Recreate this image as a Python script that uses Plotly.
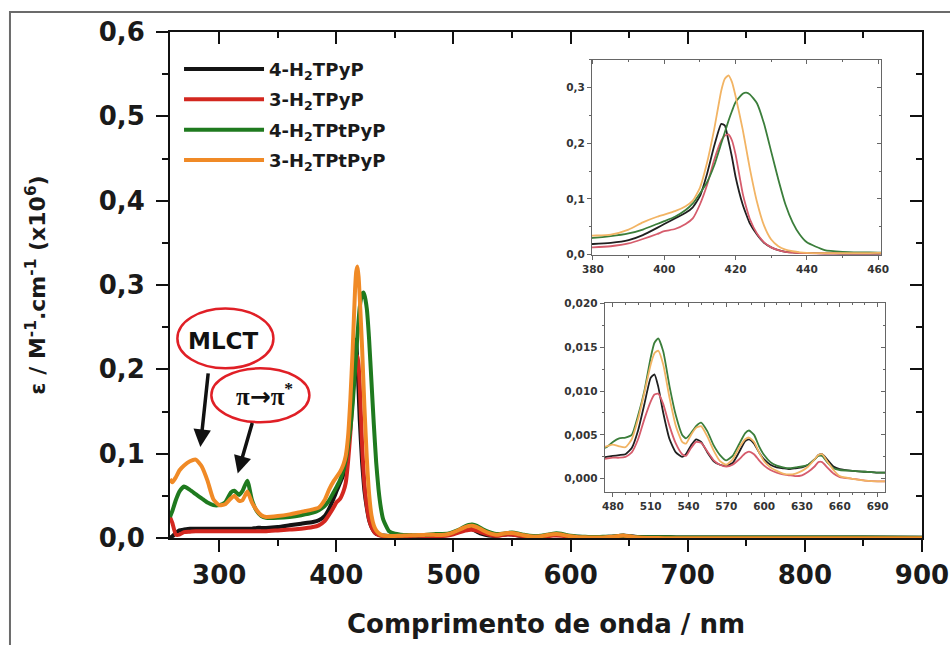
import plotly.graph_objects as go

# ---------------- data ----------------
wavelength = [
    258, 260, 263, 266, 270, 275, 280, 285, 290, 295,
    300, 305, 310, 313, 317, 320, 324, 328, 332, 336,
    340, 350, 360, 370, 380, 385, 390, 394, 398, 400,
    403, 406, 408, 410, 412, 414, 416, 417, 418, 419,
    420, 422, 423, 424, 426, 428, 430, 432, 434, 436,
    438, 440, 445, 450, 455, 460, 465, 470, 475, 480,
    485, 490, 495, 500, 505, 510, 513, 516, 520, 525,
    530, 535, 538, 542, 546, 550, 555, 560, 565, 570,
    575, 580, 585, 588, 592, 596, 600, 605, 610, 615,
    620, 625, 630, 635, 640, 643, 646, 650, 655, 660,
    670, 680, 690, 700, 750, 800, 850, 900,
]

eps_4_H2TPyP = [
    0.000, 0.002, 0.006, 0.009, 0.010, 0.011, 0.011, 0.011, 0.011, 0.011,
    0.011, 0.011, 0.011, 0.011, 0.011, 0.011, 0.011, 0.011, 0.012, 0.012,
    0.012, 0.013, 0.015, 0.017, 0.019, 0.021, 0.026, 0.035, 0.048, 0.055,
    0.065, 0.075, 0.085, 0.105, 0.145, 0.195, 0.235, 0.232, 0.205, 0.175,
    0.140, 0.090, 0.072, 0.056, 0.036, 0.021, 0.013, 0.008, 0.005, 0.004,
    0.003, 0.003, 0.0022, 0.002, 0.002, 0.002, 0.0022, 0.0024, 0.0025, 0.0026,
    0.0027, 0.0028, 0.0035, 0.0055, 0.0085, 0.0115, 0.0119, 0.0105, 0.0075, 0.0045,
    0.0030, 0.0025, 0.0028, 0.0038, 0.0045, 0.0042, 0.0030, 0.0020, 0.0016, 0.0015,
    0.0018, 0.0030, 0.0043, 0.0045, 0.0040, 0.0030, 0.0022, 0.0016, 0.0013, 0.0012,
    0.0011, 0.0012, 0.0013, 0.0016, 0.0022, 0.0027, 0.0028, 0.0022, 0.0014, 0.0011,
    0.0009, 0.0008, 0.0007, 0.0007, 0.0006, 0.0005, 0.0005, 0.0004,
]

eps_3_H2TPyP = [
    0.025, 0.018, 0.004, 0.004, 0.007, 0.0075, 0.008, 0.008, 0.008, 0.008,
    0.008, 0.008, 0.008, 0.008, 0.008, 0.008, 0.008, 0.008, 0.008, 0.008,
    0.008, 0.009, 0.010, 0.011, 0.013, 0.015, 0.020, 0.028, 0.037, 0.042,
    0.046, 0.055, 0.065, 0.090, 0.125, 0.170, 0.205, 0.214, 0.216, 0.205,
    0.180, 0.110, 0.085, 0.064, 0.038, 0.022, 0.013, 0.008, 0.005, 0.0035,
    0.0028, 0.0025, 0.002, 0.002, 0.002, 0.002, 0.0021, 0.0022, 0.0023, 0.0024,
    0.0024, 0.0025, 0.0030, 0.0045, 0.0068, 0.0088, 0.0096, 0.0097, 0.0085, 0.0060,
    0.0040, 0.0028, 0.0026, 0.0035, 0.0042, 0.0041, 0.0031, 0.0021, 0.0016, 0.0014,
    0.0016, 0.0022, 0.0029, 0.0031, 0.0028, 0.0021, 0.0015, 0.0010, 0.0007, 0.0005,
    0.0004, 0.0003, 0.0004, 0.0008, 0.0014, 0.0019, 0.0019, 0.0013, 0.0006, 0.0002,
    0.0000, -0.0002, -0.0003, -0.0003, -0.0003, -0.0003, -0.0003, -0.0003,
]

eps_4_H2TPtPyP = [
    0.025, 0.032, 0.045, 0.055, 0.061, 0.057, 0.052, 0.047, 0.042, 0.039,
    0.039, 0.042, 0.054, 0.056, 0.051, 0.056, 0.068, 0.045, 0.032, 0.026,
    0.024, 0.024, 0.025, 0.027, 0.030, 0.033, 0.038, 0.045, 0.055, 0.060,
    0.068, 0.080, 0.092, 0.110, 0.130, 0.160, 0.200, 0.220, 0.240, 0.258,
    0.274, 0.289, 0.291, 0.288, 0.272, 0.235, 0.185, 0.135, 0.090, 0.058,
    0.036, 0.022, 0.008, 0.005, 0.004, 0.0035, 0.0034, 0.0034, 0.0036, 0.0042,
    0.0046, 0.0047, 0.0050, 0.0072, 0.0100, 0.0138, 0.0155, 0.0160, 0.0145, 0.0105,
    0.0072, 0.0050, 0.0046, 0.0052, 0.0060, 0.0064, 0.0054, 0.0038, 0.0027, 0.0021,
    0.0026, 0.0039, 0.0052, 0.0055, 0.0050, 0.0037, 0.0027, 0.0019, 0.0015, 0.0013,
    0.0012, 0.0013, 0.0014, 0.0016, 0.0022, 0.0026, 0.0026, 0.0019, 0.0012, 0.0010,
    0.0009, 0.0008, 0.0007, 0.0007, 0.0006, 0.0005, 0.0005, 0.0004,
]

eps_3_H2TPtPyP = [
    0.070, 0.066, 0.072, 0.080, 0.086, 0.091, 0.093, 0.085, 0.068, 0.046,
    0.039, 0.040, 0.047, 0.050, 0.044, 0.045, 0.055, 0.042, 0.033, 0.027,
    0.025, 0.026, 0.028, 0.031, 0.034, 0.036, 0.045, 0.058, 0.068, 0.072,
    0.078, 0.087, 0.097, 0.120, 0.165, 0.225, 0.295, 0.316, 0.322, 0.310,
    0.285, 0.225, 0.190, 0.155, 0.095, 0.052, 0.027, 0.015, 0.009, 0.006,
    0.004, 0.003, 0.0025, 0.0025, 0.0026, 0.0030, 0.0033, 0.0035, 0.0037, 0.0039,
    0.0037, 0.0036, 0.0045, 0.0068, 0.0098, 0.0130, 0.0143, 0.0146, 0.0130, 0.0092,
    0.0060, 0.0042, 0.0040, 0.0050, 0.0058, 0.0060, 0.0048, 0.0032, 0.0020, 0.0016,
    0.0022, 0.0035, 0.0045, 0.0047, 0.0042, 0.0030, 0.0020, 0.0013, 0.0009, 0.0006,
    0.0005, 0.0006, 0.0009, 0.0014, 0.0022, 0.0027, 0.0028, 0.0020, 0.0010, 0.0003,
    0.0000, -0.0002, -0.0003, -0.0003, -0.0003, -0.0003, -0.0003, -0.0003,
]

series_names = [
    "4-H<sub>2</sub>TPyP",
    "3-H<sub>2</sub>TPyP",
    "4-H<sub>2</sub>TPtPyP",
    "3-H<sub>2</sub>TPtPyP",
]
series_values = [eps_4_H2TPyP, eps_3_H2TPyP, eps_4_H2TPtPyP, eps_3_H2TPtPyP]

main_colors = ["#141414", "#d3271f", "#1f7a1f", "#f08a26"]
inset_colors = ["#202020", "#d65c6c", "#3b7e3b", "#f2b464"]

x_title = "Comprimento de onda / nm"
y_title = "ε / M<sup>-1</sup>.cm<sup>-1</sup> (x10<sup>6</sup>)"

FONT = "DejaVu Sans"

# ---------------- figure ----------------
fig = go.Figure()

for i, (name, vals) in enumerate(zip(series_names, series_values)):
    fig.add_trace(go.Scatter(
        x=wavelength, y=vals, name=name, mode="lines",
        line=dict(color=main_colors[i], width=4, shape="spline", smoothing=0.5),
        legendgroup=f"g{i}", xaxis="x", yaxis="y",
    ))

for i, vals in enumerate(series_values):
    fig.add_trace(go.Scatter(
        x=wavelength, y=vals, mode="lines", showlegend=False,
        line=dict(color=inset_colors[i], width=1.8, shape="spline", smoothing=0.5),
        xaxis="x2", yaxis="y2",
    ))
    fig.add_trace(go.Scatter(
        x=wavelength, y=vals, mode="lines", showlegend=False,
        line=dict(color=inset_colors[i], width=1.8, shape="spline", smoothing=0.5),
        xaxis="x3", yaxis="y3",
    ))

# dummy traces so that inward-tick mirror axes are drawn
for xa, ya in (("x4", "y4"), ("x5", "y5"), ("x6", "y6")):
    fig.add_trace(go.Scatter(x=[], y=[], xaxis=xa, yaxis=ya, showlegend=False,
                             hoverinfo="skip"))

main_x_range = [258, 900]
main_y_range = [0, 0.6]
in1_x_range = [379.7, 460.8]
in1_y_range = [-0.001, 0.35]
in2_x_range = [473.5, 696]
in2_y_range = [-0.0015, 0.020]

in1_dom_x = [0.561, 0.9455]
in1_dom_y = [0.559, 0.945]
in2_dom_x = [0.578, 0.951]
in2_dom_y = [0.091, 0.464]

main_tick_font = dict(family=FONT, size=26, color="#1a1a1a", weight="bold")
inset_tick_font = dict(family=FONT, size=10.5, color="#333333", weight="bold")


def base_axis(rng, dtick, minor_dtick, ticklen, width, color, tickfont, fmt=None):
    d = dict(
        range=rng, autorange=False, tickmode="linear", tick0=0, dtick=dtick,
        ticks="outside", ticklen=ticklen, tickwidth=width, tickcolor=color,
        minor=dict(ticks="outside", dtick=minor_dtick, tick0=0,
                   ticklen=ticklen / 2, tickwidth=width, tickcolor=color),
        showline=True, linecolor=color, linewidth=width, mirror=True,
        showgrid=False, zeroline=False, tickfont=tickfont, automargin=False,
    )
    if fmt:
        d["tickformat"] = fmt
    return d


def inner_axis(rng, dtick, minor_dtick, ticklen, width, color, overlaying, side, anchor):
    return dict(
        range=rng, autorange=False, tickmode="linear", tick0=0, dtick=dtick,
        ticks="inside", ticklen=ticklen, tickwidth=width, tickcolor=color,
        minor=dict(ticks="inside", dtick=minor_dtick, tick0=0,
                   ticklen=ticklen / 2, tickwidth=width, tickcolor=color),
        showline=False, showgrid=False, zeroline=False, showticklabels=False,
        overlaying=overlaying, side=side, anchor=anchor, automargin=False,
    )


xaxis = base_axis(main_x_range, 100, 50, 12, 2, "#111111", main_tick_font)
xaxis.update(domain=[0, 1], anchor="y", ticklabelstandoff=1,
             title=dict(text=x_title, standoff=26,
                        font=dict(family=FONT, size=26, color="#1a1a1a", weight="bold")))
yaxis = base_axis(main_y_range, 0.1, 0.05, 12, 2, "#111111", main_tick_font, ".1f")
yaxis.update(domain=[0, 1], anchor="x", ticklabelstandoff=6,
             title=dict(text=y_title, standoff=47,
                        font=dict(family=FONT, size=22, color="#1a1a1a", weight="bold")))

xaxis2 = base_axis(in1_x_range, 20, 10, 4, 1, "#666666", inset_tick_font)
xaxis2.update(domain=in1_dom_x, anchor="y2")
yaxis2 = base_axis(in1_y_range, 0.1, 0.05, 4, 1, "#666666", inset_tick_font, ".1f")
yaxis2.update(domain=in1_dom_y, anchor="x2")

xaxis3 = base_axis(in2_x_range, 30, 10, 4, 1, "#666666", inset_tick_font)
xaxis3.update(domain=in2_dom_x, anchor="y3")
yaxis3 = base_axis(in2_y_range, 0.005, 0.0025, 4, 1, "#666666", inset_tick_font, ".3f")
yaxis3.update(domain=in2_dom_y, anchor="x3")

xaxis4 = inner_axis(main_x_range, 100, 50, 12, 2, "#111111", "x", "top", "y")
yaxis4 = inner_axis(main_y_range, 0.1, 0.05, 12, 2, "#111111", "y", "right", "x")
xaxis5 = inner_axis(in1_x_range, 20, 10, 4, 1, "#666666", "x2", "top", "y2")
yaxis5 = inner_axis(in1_y_range, 0.1, 0.05, 4, 1, "#666666", "y2", "right", "x2")
xaxis6 = inner_axis(in2_x_range, 30, 10, 4, 1, "#666666", "x3", "top", "y3")
yaxis6 = inner_axis(in2_y_range, 0.005, 0.0025, 4, 1, "#666666", "y3", "right", "x3")

fig.update_layout(
    width=950, height=645,
    margin=dict(l=170, r=28, t=32, b=107, autoexpand=False),
    paper_bgcolor="white", plot_bgcolor="white",
    separators=",.",
    xaxis=xaxis, yaxis=yaxis, xaxis2=xaxis2, yaxis2=yaxis2,
    xaxis3=xaxis3, yaxis3=yaxis3, xaxis4=xaxis4, yaxis4=yaxis4,
    xaxis5=xaxis5, yaxis5=yaxis5, xaxis6=xaxis6, yaxis6=yaxis6,
    showlegend=True,
    legend=dict(x=0.012, y=0.963, xanchor="left", yanchor="top",
                bgcolor="rgba(0,0,0,0)", borderwidth=0,
                font=dict(family=FONT, size=18, color="#1a1a1a", weight="bold"),
                tracegroupgap=4, itemwidth=80),
)

# outer picture frame (top and left edges visible)
fig.add_shape(type="rect", xref="paper", yref="paper",
              x0=-0.2128, x1=1.3, y0=-0.5, y1=1.0395,
              line=dict(color="#6b6b6b", width=2), layer="below")

# annotation ellipses
ell_red = "#e01f26"
fig.add_shape(type="circle", xref="x", yref="y", x0=264.3, x1=346.3, y0=0.2012, y1=0.2722,
              line=dict(color=ell_red, width=2.5))
fig.add_shape(type="circle", xref="x", yref="y", x0=293.3, x1=377.0, y0=0.1373, y1=0.2012,
              line=dict(color=ell_red, width=2.5))

fig.add_annotation(x=303.6, y=0.234, xref="x", yref="y", text="MLCT", showarrow=False,
                   font=dict(family=FONT, size=23, color="#111111", weight="bold"))
fig.add_annotation(
    x=339.0, y=0.170, xref="x", yref="y", showarrow=False,
    text=("π<span style=\"font-family:'DejaVu Sans'\">→</span>π<sup>*</sup>"),
    font=dict(family="Liberation Serif", size=25, color="#111111", weight="bold"))

# arrows
fig.add_annotation(x=283.9, y=0.108, xref="x", yref="y", ax=8, ay=-75, text="",
                   showarrow=True, arrowhead=2, arrowsize=1, arrowwidth=3.5,
                   arrowcolor="#111111", standoff=0)
fig.add_annotation(x=315.8, y=0.0766, xref="x", yref="y", ax=15, ay=-52, text="",
                   showarrow=True, arrowhead=2, arrowsize=1, arrowwidth=3.5,
                   arrowcolor="#111111", standoff=0)

fig.write_html(
    "out.html",
    config={"displayModeBar": False},
    post_script="document.body.style.margin='0px';document.body.style.overflow='hidden';",
)
